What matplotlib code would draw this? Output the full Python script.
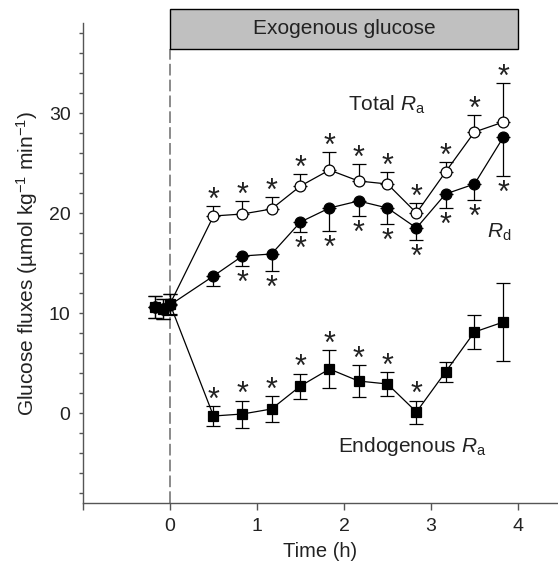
import matplotlib
matplotlib.use("Agg")
import matplotlib.pyplot as plt
from matplotlib.patches import Rectangle
import numpy as np

plt.rcParams['font.family'] = ['Liberation Sans', 'DejaVu Sans']
plt.rcParams['mathtext.fontset'] = 'custom'
plt.rcParams['mathtext.rm'] = 'Liberation Sans'
plt.rcParams['mathtext.it'] = 'Liberation Sans:italic'

# time points (h): 3 baseline samples then every 20 min during infusion
time = [-0.167, -0.083, 0.0, 0.5, 0.833, 1.167, 1.5, 1.833, 2.167, 2.5, 2.833, 3.167, 3.5, 3.833]

total_ra = [10.6, 10.4, 10.9, 19.7, 19.9, 20.4, 22.7, 24.3, 23.2, 22.9, 20.0, 24.1, 28.1, 29.1]
total_ra_err = [1.1, 1.0, 1.0, 1.0, 1.3, 1.2, 1.2, 1.8, 1.7, 1.2, 1.0, 1.0, 1.7, 3.9]
total_ra_sig = [0, 0, 0, 1, 1, 1, 1, 1, 1, 1, 1, 1, 1, 1]

rd = [10.6, 10.4, 10.8, 13.7, 15.7, 15.9, 19.1, 20.5, 21.2, 20.5, 18.5, 21.9, 22.9, 27.6]
rd_err = [1.1, 1.0, 1.0, 1.0, 1.0, 1.7, 1.0, 2.3, 1.5, 1.6, 1.2, 1.4, 1.6, 3.9]
rd_sig = [0, 0, 0, 0, 1, 1, 1, 1, 1, 1, 1, 1, 1, 1]

endo_ra = [10.6, 10.4, 10.9, -0.3, -0.1, 0.4, 2.7, 4.4, 3.2, 2.9, 0.1, 4.1, 8.1, 9.1]
endo_ra_err = [1.1, 1.0, 1.0, 1.0, 1.35, 1.3, 1.25, 1.9, 1.6, 1.2, 1.15, 1.0, 1.7, 3.9]
endo_ra_sig = [0, 0, 0, 1, 1, 1, 1, 1, 1, 1, 1, 0, 0, 0]

x_ticks = [-1, 0, 1, 2, 3, 4]
x_tick_labels = ['', '0', '1', '2', '3', '4']
y_ticks = [0, 10, 20, 30]

axis_col = '#555555'
text_col = '#222222'

fig = plt.figure(figsize=(5.58, 5.63), dpi=100)
ax = fig.add_axes([83/558, 60/563, 475/558, 480/563])

t = np.array(time)
zero = np.zeros(len(t))

# exogenous glucose bar and start line
ax.add_patch(Rectangle((0, 36.4), 4, 4.0, facecolor='#c0c0c0', edgecolor='black',
                       lw=1.0, clip_on=False, zorder=3))
ax.text(2, 38.4, 'Exogenous glucose', ha='center', va='center', fontsize=15,
        color=text_col, zorder=4)
ax.plot([0, 0], [-9, 36.4], color='#777777', lw=1.2, dashes=(7, 2.5), clip_on=False, zorder=1)

common = dict(color='black', lw=0.9, ms=7.8, mec='black', mew=0.9,
              ecolor='black', elinewidth=0.9, capsize=5, capthick=0.9, clip_on=False)

ax.errorbar(t, total_ra, yerr=[zero, total_ra_err], fmt='-o', mfc='white', zorder=5, **common)
ax.errorbar(t, rd, yerr=[rd_err, zero], fmt='-o', mfc='black', zorder=6, **common)
ax.errorbar(t, endo_ra, yerr=endo_ra_err, fmt='-s', mfc='black', zorder=7, **common)

# significance stars
def stars(vals, errs, sig, above):
    for x, v, e, s in zip(time, vals, errs, sig):
        if not s:
            continue
        if above:
            ax.annotate('*', (x, v + e), xytext=(0, 3.8), textcoords='offset points',
                        ha='center', va='center', fontsize=22, color=text_col)
        else:
            ax.annotate('*', (x, v - e), xytext=(0, -13), textcoords='offset points',
                        ha='center', va='center', fontsize=22, color=text_col)

stars(total_ra, total_ra_err, total_ra_sig, True)
stars(rd, rd_err, rd_sig, False)
stars(endo_ra, endo_ra_err, endo_ra_sig, True)

ax.text(2.49, 30.8, r'Total $R_{\mathrm{a}}$', ha='center', va='center', fontsize=15, color=text_col)
ax.text(3.78, 18.1, r'$R_{\mathrm{d}}$', ha='center', va='center', fontsize=15, color=text_col)
ax.text(2.78, -3.4, r'Endogenous $R_{\mathrm{a}}$', ha='center', va='center', fontsize=15, color=text_col)

ax.set_xlim(-1, 4.46)
ax.set_ylim(-9, 39)
ax.set_xticks(x_ticks)
ax.set_xticklabels(x_tick_labels)
ax.set_yticks(y_ticks)
ax.set_yticks(np.arange(-8, 39, 2), minor=True)

for side in ['top', 'right']:
    ax.spines[side].set_visible(False)
for side in ['left', 'bottom']:
    ax.spines[side].set_color(axis_col)
    ax.spines[side].set_linewidth(1.0)

ax.tick_params(axis='x', direction='out', length=5, width=1.0, color=axis_col,
               labelsize=14, labelcolor=text_col, pad=6)
ax.tick_params(axis='y', which='both', direction='out', length=3, width=1.0, color=axis_col,
               labelsize=14, labelcolor=text_col, pad=6)

ax.set_xlabel('Time (h)', fontsize=14.5, color=text_col, labelpad=5)
ax.set_ylabel('Glucose fluxes (µmol kg$^{-1}$ min$^{-1}$)', fontsize=15, color=text_col, labelpad=6)

fig.savefig('out.png', dpi=100)
